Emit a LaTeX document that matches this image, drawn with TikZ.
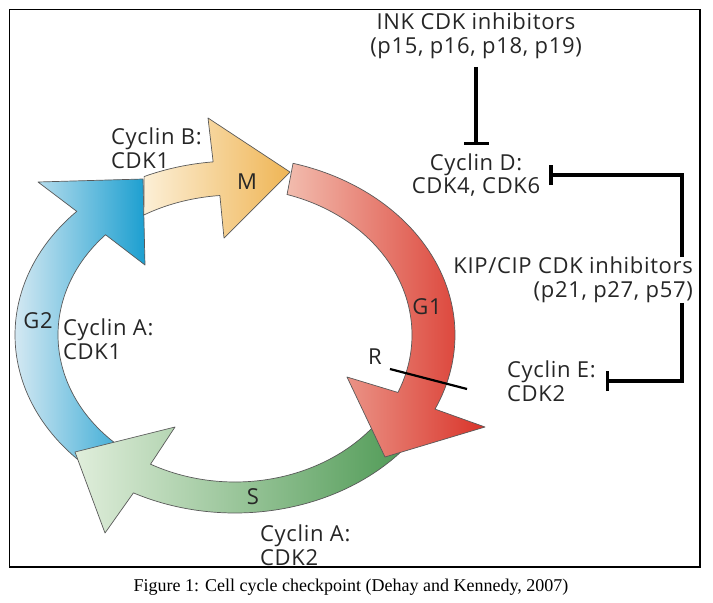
\documentclass[tikz,border=0pt]{standalone}
\usepackage{fontspec}
\newfontfamily\dfont[LetterSpace=3]{Open Sans}
\newfontfamily\capfont{Liberation Serif}
\usetikzlibrary{arrows.meta}
\definecolor{bluelt}{HTML}{D3E8F2}
\definecolor{bluedk}{HTML}{1C9FD0}
\definecolor{orlt}{HTML}{FCEFD6}
\definecolor{ordk}{HTML}{EFB555}
\definecolor{redlt}{HTML}{F2BCAE}
\definecolor{reddk}{HTML}{D9342A}
\definecolor{grlt}{HTML}{E0EEDB}
\definecolor{grdk}{HTML}{4F9A55}
\tikzset{
  phase/.style={draw=black!65, line width=0.7pt, line join=round},
  lbl/.style={font=\dfont\fontsize{22}{23.5}\selectfont, inner sep=0pt, text=black!85},
  inh/.style={line width=3.5pt, line join=miter, -{Bar[width=#1]}},
  inh/.default=20pt,
}
\begin{document}
\begin{tikzpicture}[x=1pt,y=-1pt]
\useasboundingbox (0,0) rectangle (713,603);
\fill[white] (0,0) rectangle (713,603);
\draw[line width=1.2pt] (9.5,9.5) rectangle (700,567);

% G2 (blue)
\path[phase, left color=bluelt, right color=bluedk]
  plot[domain=230:136, samples=60] ({235+220*cos(\x)},{335-178*sin(\x)})
  -- (38,182) -- (143,179) -- (145,265)
  -- plot[domain=137:230, samples=60] ({235+177*cos(\x)},{335-147*sin(\x)}) -- cycle;
% S (green)
\path[phase, left color=grlt, right color=grdk]
  plot[domain=-38:-117.5, samples=60] ({235+220*cos(\x)},{335-178*sin(\x)})
  -- (105,533) -- (75,452) -- (175,427)
  -- plot[domain=-118.5:-38, samples=60] ({235+177*cos(\x)},{335-147*sin(\x)}) -- cycle;
% M (orange)
\path[phase, left color=orlt, right color=ordk]
  plot[domain=114.4:95.7, samples=40] ({235+220*cos(\x)},{335-174*sin(\x)})
  -- (208,118) -- (290,172) -- (224,238)
  -- plot[domain=94.9:121, samples=40] ({235+177*cos(\x)},{335-140*sin(\x)}) -- cycle;
% G1 (red)
\path[phase, left color=redlt, right color=reddk]
  plot[domain=74.7:-24.6, samples=80] ({235+220*cos(\x)},{335-178*sin(\x)})
  -- (485,427) -- (385,457) -- (347,377)
  -- plot[domain=-23:72.9, samples=80] ({235+177*cos(\x)},{335-147*sin(\x)}) -- cycle;

% restriction point
\coordinate (r1) at (390,369);
\coordinate (r2) at (467,389);
\draw[line width=2.2pt] (r1) -- (r2);

% phase labels
\node[lbl] (m)  at (247,182) {M};
\node[lbl] (g1) at (427,307) {G1};
\node[lbl] (g2) at (38,321) {G2};
\node[lbl] (s)  at (253,497) {S};
\node[lbl] (r)  at (375,357) {R};

% complexes
\node[lbl, anchor=west, align=left] (cycb) at (111,148) {Cyclin B:\\CDK1};
\node[lbl, anchor=west, align=left] (cyca1) at (63,339) {Cyclin A:\\CDK1};
\node[lbl, anchor=west, align=left] (cyca2) at (260,545) {Cyclin A:\\CDK2};
\node[lbl, align=center] (cycd) at (476,175) {Cyclin D:\\CDK4, CDK6};
\node[lbl, anchor=west, align=left] (cyce) at (507,381) {Cyclin E:\\CDK2};
\node[lbl, align=center] (ink) at (476,36) {INK CDK inhibitors\\(p15, p16, p18, p19)};
\node[lbl, anchor=east, align=right] (kip) at (693,280) {KIP/CIP CDK inhibitors\\(p21, p27, p57)};

% inhibition connectors
\draw[inh=25pt, shorten <=8pt, shorten >=8pt] (ink) -- (cycd);
\draw[inh, shorten >=9pt] ([xshift=-11pt]kip.north east) |- (cycd.east);
\draw[inh, shorten >=10pt] ([xshift=-11pt]kip.south east) |- (cyce.east);

% caption
\node[font=\capfont\fontsize{18}{21}\selectfont, inner sep=0pt] (cap) at (351,587)
  {Figure 1: Cell cycle checkpoint (Dehay and Kennedy, 2007)};
\end{tikzpicture}
\end{document}
